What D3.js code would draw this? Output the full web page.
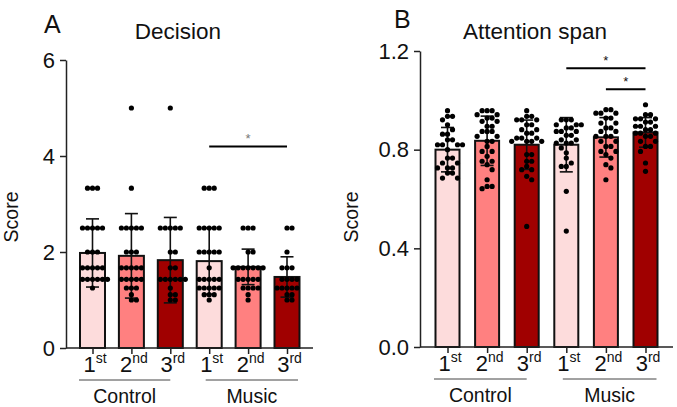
<!DOCTYPE html>
<html>
<head>
<meta charset="utf-8">
<script src="https://cdn.jsdelivr.net/npm/d3@7"></script>
<style>
  body { margin: 0; background: #fff; }
  svg { display: block; font-family: "Liberation Sans", Arial, sans-serif; }
</style>
</head>
<body>
<svg id="chart" width="677" height="407"></svg>
<script>
// sessions / groups
var sessionNums = ["1", "2", "3", "1", "2", "3"];
var sessionSuffix = ["st", "nd", "rd", "st", "nd", "rd"];
var groups = ["Control", "Music"];

// Decision scores (mean, SD, individual scores)
var decisionMeans = [1.98, 1.92, 1.83, 1.81, 1.69, 1.48];
var decisionSD = [0.71, 0.88, 0.89, 0.69, 0.37, 0.42];
var decisionPoints = [
  [3.33, 3.33, 3.33, 2.5, 2.5, 2.5, 2.5, 2.5, 2, 2, 2, 1.67, 1.67, 1.67, 1.67, 1.67, 1.43, 1.43, 1.43, 1.43, 1.43, 1.43, 1.25],
  [5, 3.33, 2.5, 2.5, 2.5, 2.5, 2.5, 2, 2, 2, 1.67, 1.67, 1.67, 1.67, 1.67, 1.43, 1.43, 1.43, 1.43, 1.43, 1.25, 1.25, 1.25, 1.11, 1, 1],
  [5, 2.5, 2.5, 2.5, 2.5, 2.5, 2, 2, 1.67, 1.67, 1.43, 1.43, 1.43, 1.43, 1.43, 1.43, 1.25, 1.11, 1.11, 1, 1],
  [3.33, 3.33, 3.33, 2.5, 2.5, 2.5, 2.5, 2.5, 2, 2, 2, 2, 2, 1.67, 1.43, 1.43, 1.43, 1.43, 1.43, 1.25, 1.25, 1.25, 1.25, 1.25, 1.11, 1.11, 1.11, 1],
  [2.5, 2.5, 2.5, 2, 2, 1.67, 1.67, 1.67, 1.67, 1.67, 1.67, 1.67, 1.43, 1.43, 1.43, 1.43, 1.43, 1.25, 1.25, 1.25, 1.25, 1.11, 1],
  [2.5, 2.5, 2, 1.67, 1.67, 1.67, 1.43, 1.43, 1.43, 1.43, 1.25, 1.25, 1.25, 1.25, 1.25, 1.11, 1.11, 1, 1]
];
var decisionTicks = [0, 2, 4, 6];

// Attention span scores
var attentionMeans = [0.80, 0.836, 0.82, 0.82, 0.85, 0.87];
var attentionSD = [0.09, 0.1, 0.1, 0.11, 0.08, 0.06];
var attentionPoints = [
  [0.958, 0.935, 0.935, 0.921, 0.901, 0.881, 0.863, 0.863, 0.84, 0.84, 0.82, 0.82, 0.82, 0.82, 0.80, 0.766, 0.766, 0.746, 0.746, 0.726, 0.726, 0.726, 0.705, 0.705, 0.685, 0.685],
  [0.958, 0.958, 0.958, 0.942, 0.942, 0.928, 0.928, 0.915, 0.915, 0.895, 0.895, 0.874, 0.874, 0.874, 0.854, 0.854, 0.834, 0.834, 0.813, 0.793, 0.793, 0.773, 0.753, 0.753, 0.739, 0.719, 0.678, 0.651, 0.651, 0.642],
  [0.958, 0.935, 0.935, 0.921, 0.921, 0.921, 0.901, 0.901, 0.881, 0.881, 0.867, 0.867, 0.847, 0.847, 0.847, 0.834, 0.834, 0.834, 0.834, 0.78, 0.78, 0.753, 0.753, 0.732, 0.719, 0.719, 0.692, 0.678, 0.489],
  [0.921, 0.921, 0.921, 0.901, 0.901, 0.901, 0.888, 0.888, 0.874, 0.874, 0.874, 0.858, 0.858, 0.84, 0.84, 0.827, 0.827, 0.827, 0.807, 0.787, 0.766, 0.746, 0.732, 0.732, 0.631, 0.47],
  [0.962, 0.962, 0.948, 0.948, 0.948, 0.928, 0.928, 0.908, 0.908, 0.888, 0.888, 0.874, 0.874, 0.854, 0.854, 0.854, 0.834, 0.834, 0.813, 0.813, 0.793, 0.793, 0.78, 0.766, 0.739, 0.726, 0.678],
  [0.982, 0.942, 0.942, 0.925, 0.925, 0.925, 0.912, 0.912, 0.895, 0.895, 0.895, 0.881, 0.881, 0.867, 0.867, 0.867, 0.854, 0.854, 0.834, 0.834, 0.813, 0.813, 0.793, 0.746, 0.712]
];
var attentionTicks = [0, 0.4, 0.8, 1.2];

var barColors = ["#fddcdc", "#ff8080", "#a00000", "#fddcdc", "#ff8080", "#a00000"];

var svg = d3.select("#chart");

// simple beeswarm: keep points in their value row, push sideways on collision
function swarm(values, cx, y, gap) {
  var placed = [];
  values.slice().sort(d3.descending).forEach((v) => {
    var py = y(v), px, k = 0;
    while (true) {
      var off = k === 0 ? 0 : (k % 2 ? 1 : -1) * Math.ceil(k / 2) * gap;
      px = cx + off;
      if (placed.every((p) => Math.hypot(p[0] - px, p[1] - py) >= gap)) break;
      k++;
    }
    placed.push([px, py]);
  });
  return placed;
}

function drawPanel(p) {
  var g = svg.append("g");

  var y = d3.scaleLinear().domain(p.domain).range([p.bottom, p.top]);
  var x = d3.scalePoint().domain(d3.range(6)).range([p.first, p.last]);

  // bars
  g.selectAll("rect.bar")
    .data(p.means)
    .enter().append("rect")
      .attr("class", "bar")
      .attr("x", (d, i) => x(i) - p.barW / 2)
      .attr("y", (d) => y(d))
      .attr("width", p.barW)
      .attr("height", (d) => y(0) - y(d))
      .attr("fill", (d, i) => barColors[i])
      .attr("stroke", "#111")
      .attr("stroke-width", 2);

  // error bars (mean +/- SD)
  var eb = g.selectAll("g.err")
    .data(p.means)
    .enter().append("g")
      .attr("stroke", "#111")
      .attr("stroke-width", 1.6);
  eb.append("line")
    .attr("x1", (d, i) => x(i)).attr("x2", (d, i) => x(i))
    .attr("y1", (d, i) => y(d + p.sd[i]))
    .attr("y2", (d, i) => y(d - p.sd[i]));
  eb.append("line")
    .attr("x1", (d, i) => x(i) - 6.5).attr("x2", (d, i) => x(i) + 6.5)
    .attr("y1", (d, i) => y(d + p.sd[i])).attr("y2", (d, i) => y(d + p.sd[i]));
  eb.append("line")
    .attr("x1", (d, i) => x(i) - 6.5).attr("x2", (d, i) => x(i) + 6.5)
    .attr("y1", (d, i) => y(d - p.sd[i])).attr("y2", (d, i) => y(d - p.sd[i]));

  // individual points
  p.points.forEach((vals, i) => {
    g.append("g").selectAll("circle")
      .data(swarm(vals, x(i), y, p.gap))
      .enter().append("circle")
        .attr("cx", (d) => d[0])
        .attr("cy", (d) => d[1])
        .attr("r", 2.6)
        .attr("fill", "#000");
  });

  // y axis
  var yAxis = d3.axisLeft(y)
    .tickValues(p.ticks)
    .tickFormat(p.fmt)
    .tickSize(6)
    .tickSizeOuter(0)
    .tickPadding(5);
  var ya = g.append("g")
    .attr("transform", "translate(" + p.left + ",0)")
    .call(yAxis);
  ya.select(".domain").attr("stroke", "#222").attr("stroke-width", 1.5);
  ya.selectAll(".tick line").attr("stroke", "#222").attr("stroke-width", 1.5);
  ya.selectAll(".tick text")
    .attr("font-size", 22)
    .attr("font-family", "Liberation Sans, Arial, sans-serif")
    .attr("fill", "#111");

  // x axis: long baseline, ticks at bar centres, superscript labels
  g.append("line")
    .attr("x1", p.left).attr("x2", p.right)
    .attr("y1", y(0)).attr("y2", y(0))
    .attr("stroke", "#222").attr("stroke-width", 1.5);
  var xAxis = d3.axisBottom(x).tickSize(6).tickFormat("");
  var xa = g.append("g")
    .attr("transform", "translate(0," + y(0) + ")")
    .call(xAxis);
  xa.select(".domain").remove();
  xa.selectAll(".tick line").attr("stroke", "#222").attr("stroke-width", 1.5);
  var lab = xa.selectAll(".tick").append("text")
    .attr("x", 2)
    .attr("y", 24)
    .attr("text-anchor", "middle")
    .attr("fill", "#111")
    .attr("font-size", 22)
    .attr("font-family", "Liberation Sans, Arial, sans-serif");
  lab.append("tspan").text((d) => sessionNums[d]);
  lab.append("tspan").attr("dy", -9).attr("font-size", 14).text((d) => sessionSuffix[d]);

  // group brackets
  var spans = [[x(0) - 13.5, x(2)], [x(3) - 3.5, x(5) + 11]];
  groups.forEach((name, k) => {
    g.append("line")
      .attr("x1", spans[k][0]).attr("x2", spans[k][1])
      .attr("y1", y(0) + 32).attr("y2", y(0) + 32)
      .attr("stroke", "#444").attr("stroke-width", 1);
    g.append("text")
      .attr("x", (spans[k][0] + spans[k][1]) / 2)
      .attr("y", y(0) + 55)
      .attr("text-anchor", "middle")
      .attr("font-size", 19.5)
      .attr("fill", "#111")
      .text(name);
  });

  // significance lines
  p.sig.forEach((s) => {
    g.append("line")
      .attr("x1", x(s.from)).attr("x2", x(s.to))
      .attr("y1", y(s.v)).attr("y2", y(s.v))
      .attr("stroke", "#000").attr("stroke-width", 2);
    g.append("text")
      .attr("x", (x(s.from) + x(s.to)) / 2)
      .attr("y", y(s.v) - 3)
      .attr("text-anchor", "middle")
      .attr("font-size", 13)
      .attr("fill", s.col)
      .text("*");
  });

  // titles
  g.append("text")
    .attr("x", p.titleX).attr("y", 39)
    .attr("text-anchor", "middle")
    .attr("font-size", 22.5)
    .attr("fill", "#111")
    .text(p.title);
  g.append("text")
    .attr("x", p.letterX).attr("y", p.letterY)
    .attr("font-size", 25)
    .attr("fill", "#111")
    .text(p.letter);
  g.append("text")
    .attr("transform", "translate(" + p.scoreX + ",217) rotate(-90)")
    .attr("text-anchor", "middle")
    .attr("font-size", 19.5)
    .attr("fill", "#111")
    .text("Score");
}

drawPanel({
  domain: [0, 6], top: 60, bottom: 348, left: 66, right: 313,
  first: 92.5, last: 287, barW: 25, gap: 5,
  means: decisionMeans, sd: decisionSD, points: decisionPoints,
  ticks: decisionTicks, fmt: d3.format("d"),
  sig: [{from: 3, to: 5, v: 4.2, col: "#777"}],
  title: "Decision", titleX: 178, letter: "A", letterX: 44, letterY: 33, scoreX: 18
});

drawPanel({
  domain: [0, 1.2], top: 51, bottom: 347, left: 420, right: 673,
  first: 447.5, last: 645.5, barW: 24, gap: 5,
  means: attentionMeans, sd: attentionSD, points: attentionPoints,
  ticks: attentionTicks, fmt: d3.format(".1f"),
  sig: [{from: 3, to: 5, v: 1.13, col: "#111"}, {from: 4, to: 5, v: 1.045, col: "#111"}],
  title: "Attention span", titleX: 535, letter: "B", letterX: 394, letterY: 28, scoreX: 358
});
</script>
</body>
</html>
